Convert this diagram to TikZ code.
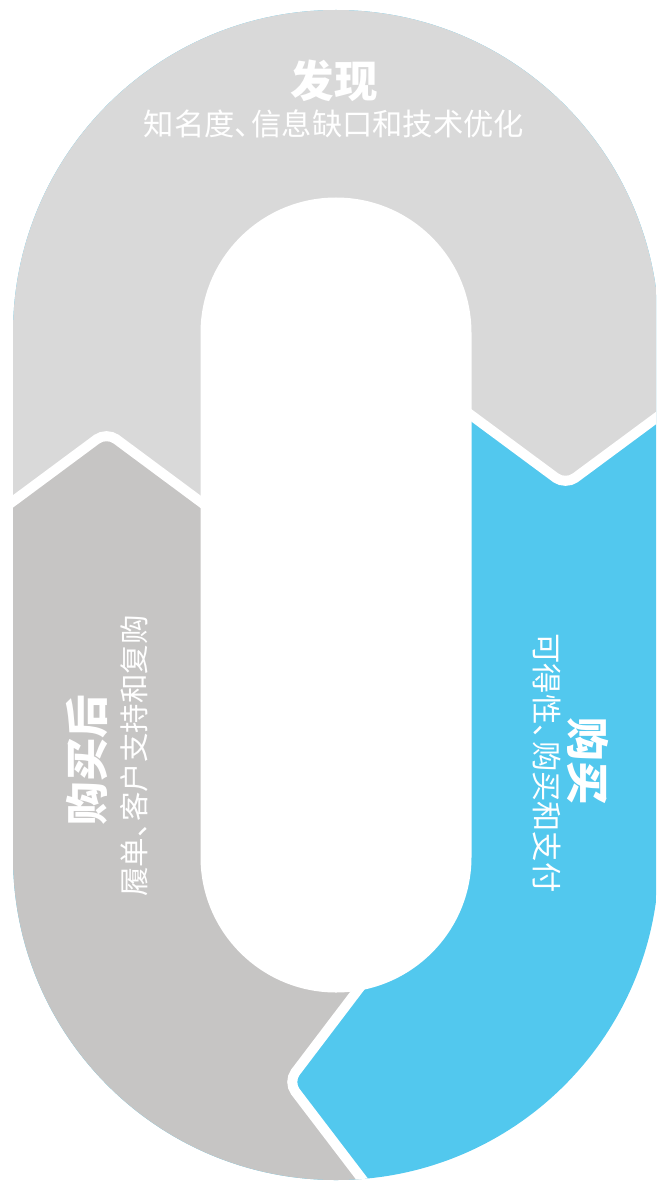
\documentclass[tikz,border=0pt]{standalone}
\usepackage{fontspec}
\newfontfamily\cjk{Noto Sans CJK SC}
\usetikzlibrary{positioning}
\definecolor{findgray}{HTML}{D9D9D9}
\definecolor{aftergray}{HTML}{C6C5C4}
\definecolor{buyblue}{HTML}{52C8EE}

\begin{document}
\begin{tikzpicture}[x=1pt, y=1pt]
    \tikzstyle{title} = [text=white, inner sep=0pt, font=\cjk\bfseries\fontsize{43.5}{44}\selectfont]
    \tikzstyle{sub} = [text=white, inner sep=0pt, font=\cjk\fontsize{30.3}{31}\selectfont]
    \tikzset{gap/.style = {draw=white, line width=10pt, rounded corners=12pt}}

    \useasboundingbox (0,0) rectangle (656,-1182);

    % Ring
    \begin{scope}
        \clip (0,0) rectangle (656,-1182);
        \clip (13,-333) arc[start angle=180, end angle=0, radius=323pt]
            -- (659,-857) arc[start angle=0, end angle=-180, radius=323pt] -- cycle;
        \fill[buyblue] (-10,10) rectangle (680,-1200);
        \fill[findgray] (-10,10) -- (680,10) -- (680,-406.2) -- (565.5,-485) -- (459,-406.2)
            -- (213,-511) -- (106.5,-432) -- (0,-511) -- (-10,-511) -- cycle;
        \fill[aftergray] (-10,-511) -- (0,-511) -- (106.5,-432) -- (213,-511)
            -- (370,-974) -- (288,-1082) -- (378,-1200) -- (-10,-1200) -- cycle;

        % Hole
        \fill[white] (200.5,-333) arc[start angle=180, end angle=0, radius=135.5pt]
            -- (471.5,-857) arc[start angle=0, end angle=-180, radius=135.5pt] -- cycle;

        % Gaps
        \draw[gap] (0,-511) -- (106.5,-432) -- (213,-511);
        \draw[gap] (459,-406.2) -- (565.5,-485) -- (672,-406.2);
        \draw[gap] (370,-974) -- (288,-1082) -- (378,-1200);
    \end{scope}

    % Labels
    \node[title] (find) at (334,-81) {发现};
    \node[sub, below=7pt of find] (findtext) {知名度、\hspace{-.45em}信息缺口和技术优化};
    \node[title, rotate=-90] (buy) at (588,-761) {购买};
    \node[sub, rotate=-90] (buytext) at (547,-763) {可得性、\hspace{-.45em}购买和支付};
    \node[title, rotate=90] (after) at (87,-760) {购买后};
    \node[sub, rotate=90, font=\cjk\fontsize{29.5}{30}\selectfont] (aftertext) at (134,-756) {履单、\hspace{-.45em}客户支持和复购};
\end{tikzpicture}
\end{document}
